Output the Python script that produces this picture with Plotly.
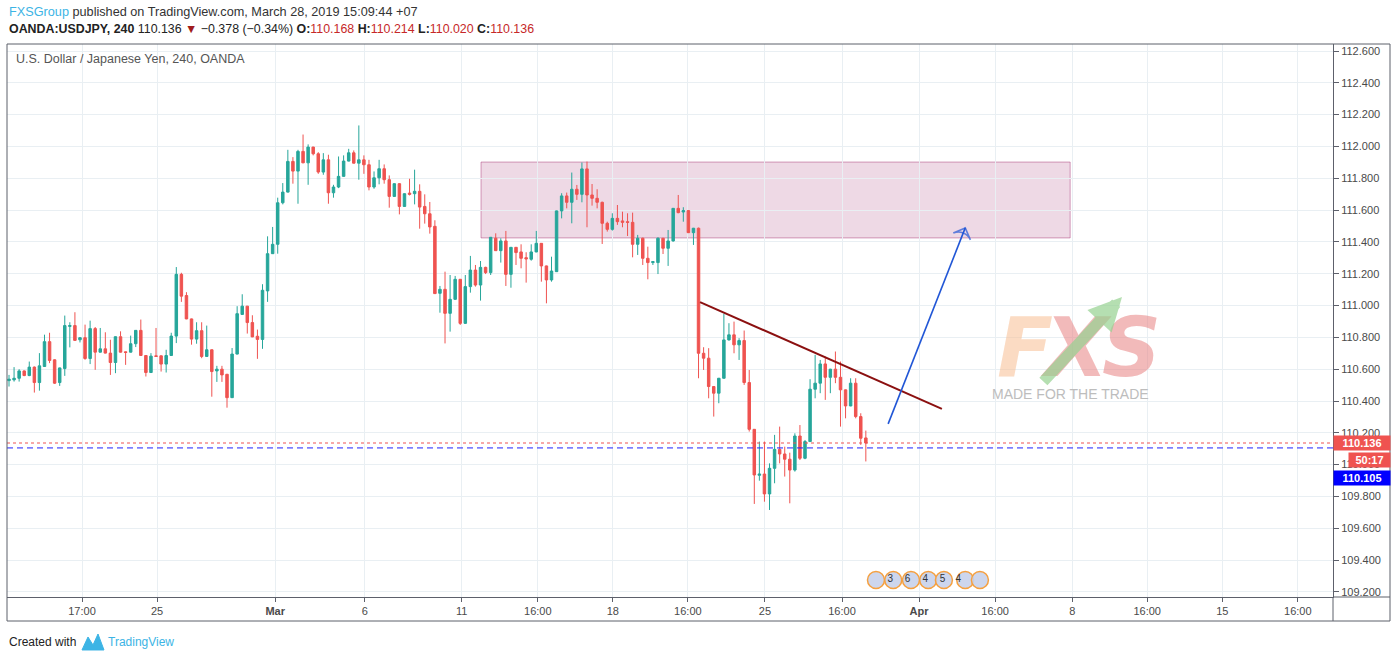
import plotly.graph_objects as go

# ---------------- data ----------------
opens = [110.528,110.533,110.543,110.589,110.560,110.613,110.516,110.617,110.773,110.659,
         110.516,110.604,110.869,110.874,110.785,110.798,110.667,110.855,110.707,110.728,
         110.701,110.642,110.804,110.709,110.707,110.760,110.844,110.686,110.579,110.684,
         110.684,110.632,110.686,110.808,111.196,111.063,110.916,110.789,110.842,110.680,
         110.722,110.589,110.600,110.568,110.421,110.695,110.944,110.996,110.893,110.807,
         110.787,111.092,111.326,111.385,111.646,111.713,111.906,111.845,111.969,111.897,
         111.996,111.954,111.839,111.916,111.709,111.745,111.812,111.908,111.960,111.895,
         111.916,111.885,111.745,111.803,111.860,111.791,111.686,111.766,111.623,111.707,
         111.703,111.718,111.623,111.577,111.498,111.077,111.102,110.951,111.039,111.165,
         110.888,111.119,111.223,111.129,111.240,111.207,111.423,111.345,111.406,111.196,
         111.366,111.337,111.301,111.291,111.337,111.391,111.249,111.161,111.213,111.595,
         111.689,111.649,111.731,111.699,111.859,111.695,111.674,111.649,111.517,111.479,
         111.548,111.532,111.527,111.523,111.385,111.423,111.297,111.270,111.270,111.423,
         111.360,111.406,111.611,111.588,111.597,111.458,111.486,110.700,110.669,110.491,
         110.449,110.543,110.784,110.816,110.753,110.780,110.516,110.222,109.933,109.941,
         109.816,109.977,110.096,110.067,110.034,109.966,110.180,110.040,110.145,110.474,
         110.512,110.633,110.549,110.600,110.549,110.470,110.369,110.512,110.302,110.168]
highs = [110.564,110.613,110.600,110.592,110.648,110.617,110.701,110.817,110.829,110.662,
         110.610,110.937,110.895,110.958,110.800,110.880,110.905,110.865,110.859,110.832,
         110.785,110.806,110.838,110.711,110.811,110.846,110.912,110.688,110.701,110.859,
         110.686,110.722,110.829,111.242,111.206,111.084,110.918,110.895,110.895,110.874,
         110.724,110.621,110.621,110.570,110.733,110.996,111.071,110.998,110.939,110.849,
         111.134,111.435,111.494,111.678,111.770,111.979,111.933,111.979,112.075,112.013,
         111.998,111.964,111.958,111.948,111.759,111.937,111.944,111.985,111.975,112.132,
         111.944,111.916,111.843,111.916,111.887,111.818,111.768,111.770,111.705,111.797,
         111.854,111.762,111.699,111.651,111.536,111.123,111.213,111.192,111.186,111.167,
         111.192,111.312,111.255,111.280,111.244,111.431,111.454,111.423,111.469,111.368,
         111.368,111.385,111.335,111.385,111.469,111.393,111.251,111.307,111.597,111.706,
         111.710,111.836,111.758,111.899,111.905,111.764,111.731,111.653,111.527,111.580,
         111.632,111.590,111.580,111.584,111.444,111.427,111.370,111.278,111.429,111.425,
         111.475,111.613,111.695,111.618,111.599,111.488,111.490,110.738,110.732,110.493,
         110.545,110.948,110.889,110.899,110.795,110.843,110.595,110.224,110.145,110.145,
         110.008,110.187,110.239,110.113,110.075,110.197,110.249,110.155,110.537,110.690,
         110.658,110.679,110.602,110.711,110.648,110.472,110.543,110.543,110.323,110.214]
lows = [110.491,110.522,110.522,110.556,110.556,110.453,110.465,110.615,110.638,110.507,
        110.495,110.558,110.737,110.779,110.768,110.659,110.632,110.596,110.705,110.699,
        110.564,110.575,110.705,110.627,110.705,110.739,110.684,110.554,110.577,110.678,
        110.585,110.579,110.684,110.764,111.023,110.914,110.754,110.760,110.669,110.678,
        110.427,110.520,110.520,110.358,110.419,110.693,110.942,110.824,110.801,110.665,
        110.728,111.023,111.324,111.326,111.636,111.711,111.766,111.640,111.895,111.759,
        111.944,111.828,111.822,111.640,111.678,111.738,111.810,111.906,111.893,111.791,
        111.828,111.724,111.734,111.762,111.766,111.615,111.684,111.573,111.621,111.692,
        111.636,111.483,111.515,111.452,111.073,110.955,110.762,110.836,111.035,110.878,
        110.884,111.081,111.119,111.031,111.198,111.192,111.343,111.270,111.123,111.112,
        111.255,111.234,111.144,111.282,111.335,111.150,111.014,111.150,111.211,111.548,
        111.611,111.517,111.664,111.649,111.492,111.628,111.611,111.387,111.465,111.471,
        111.507,111.492,111.437,111.303,111.318,111.255,111.165,111.255,111.198,111.324,
        111.249,111.402,111.580,111.527,111.456,111.381,110.543,110.595,110.417,110.302,
        110.386,110.541,110.780,110.700,110.658,110.501,110.208,109.753,109.899,109.767,
        109.715,109.883,110.008,109.925,109.757,109.956,110.029,110.034,110.143,110.417,
        110.449,110.407,110.449,110.512,110.239,110.291,110.367,110.291,110.124,110.020]
closes = [110.537,110.543,110.589,110.560,110.613,110.516,110.621,110.773,110.655,110.512,
          110.608,110.874,110.874,110.781,110.798,110.667,110.855,110.707,110.728,110.701,
          110.642,110.804,110.707,110.705,110.760,110.844,110.686,110.579,110.682,110.680,
          110.632,110.686,110.808,111.196,111.059,110.916,110.789,110.842,110.680,110.722,
          110.585,110.600,110.564,110.421,110.695,110.949,110.996,110.893,110.803,110.787,
          111.096,111.326,111.385,111.646,111.713,111.906,111.845,111.969,111.897,111.996,
          111.954,111.839,111.916,111.709,111.745,111.812,111.908,111.960,111.895,111.916,
          111.885,111.745,111.803,111.860,111.791,111.686,111.766,111.623,111.703,111.699,
          111.718,111.619,111.577,111.494,111.075,111.102,110.951,111.039,111.165,110.888,
          111.119,111.223,111.129,111.240,111.207,111.429,111.345,111.406,111.196,111.366,
          111.333,111.297,111.293,111.337,111.391,111.249,111.161,111.217,111.595,111.689,
          111.649,111.731,111.699,111.859,111.695,111.674,111.649,111.517,111.479,111.548,
          111.527,111.523,111.523,111.385,111.423,111.297,111.270,111.276,111.423,111.360,
          111.406,111.611,111.584,111.597,111.458,111.486,110.700,110.669,110.491,110.449,
          110.543,110.784,110.816,110.753,110.780,110.516,110.222,109.935,109.941,109.816,
          109.977,110.096,110.067,110.034,109.966,110.180,110.040,110.145,110.474,110.512,
          110.633,110.549,110.600,110.549,110.470,110.369,110.512,110.302,110.166,110.136]
bar_index = list(range(len(opens)))

time_tick_pos = [14.4, 29.2, 52.5, 70.2, 89.3, 104.3, 119.1, 133.9, 149.1, 164.3,
                 179.5, 194.5, 209.7, 224.5, 239.3, 254.2]
time_tick_text = ["17:00", "25", "<b>Mar</b>", "6", "11", "16:00", "18", "16:00", "25", "16:00",
                  "<b>Apr</b>", "16:00", "8", "16:00", "15", "16:00"]
price_ticks = [109.2, 109.4, 109.6, 109.8, 110.0, 110.2, 110.4, 110.6, 110.8, 111.0,
               111.2, 111.4, 111.6, 111.8, 112.0, 112.2, 112.4, 112.6]

# drawings on the chart
zone_x = [93.1, 209.3]
zone_y = [111.425, 111.902]
trend_x = [136.3, 184.0]
trend_y = [111.022, 110.350]
arrow_x = [173.4, 188.6]
arrow_y = [110.256, 111.488]
last_price = 110.136
bid_price = 110.105
event_x = [171.0, 174.4, 177.9, 181.3, 184.4, 188.6, 191.5]
event_y = [109.275] * len(event_x)
event_text = ["3", "6", "4", "5", "4", "", ""]

x_range = [-0.394, 261.14]
y_range = [109.168, 112.644]

FONT = "Liberation Sans, Arial, sans-serif"
UP = "#26a69a"
DOWN = "#ef5350"
GRID = "#e9eff3"
AXIS = "#5d606b"

fig = go.Figure()

# zone rectangle (below candles)
fig.add_shape(type="rect", x0=zone_x[0], x1=zone_x[1], y0=zone_y[0], y1=zone_y[1],
              xref="x", yref="y", layer="below",
              fillcolor="rgba(163,44,110,0.18)", line=dict(color="rgba(163,44,110,0.45)", width=1))

# watermark
wm_font = dict(family="DejaVu Sans, Liberation Sans", size=82)
for letter, px, col in [("F", 1025, "rgba(248,190,145,0.55)"),
                        ("X", 1076, "rgba(232,130,130,0.55)"),
                        ("S", 1131, "rgba(232,130,130,0.55)")]:
    fig.add_annotation(xref="paper", yref="paper", x=(px - 7) / 1326, y=0.452,
                       xanchor="center", yanchor="middle", text="<b><i>%s</i></b>" % letter,
                       showarrow=False, font=dict(wm_font, color=col))
fig.add_annotation(xref="paper", yref="paper", x=(1122 - 7) / 1326, y=(597 - 297) / 553,
                   ax=-80, ay=86, text="", showarrow=True, arrowhead=2, arrowsize=0.6,
                   arrowwidth=11, arrowcolor="rgba(150,210,145,0.7)")
fig.add_annotation(xref="paper", yref="paper", x=(1070 - 7) / 1326, y=(597 - 394) / 553,
                   xanchor="center", yanchor="middle", text="MADE FOR THE TRADE",
                   showarrow=False, font=dict(family=FONT, size=14, color="#bdbdbd"))

# horizontal price lines
fig.add_hline(y=last_price, line=dict(color=DOWN, width=1, dash="dot"))
fig.add_hline(y=bid_price, line=dict(color="#2020ff", width=1, dash="6px,4px"))

# candles
fig.add_trace(go.Candlestick(
    x=bar_index, open=opens, high=highs, low=lows, close=closes,
    increasing=dict(line=dict(color=UP, width=1), fillcolor=UP),
    decreasing=dict(line=dict(color=DOWN, width=1), fillcolor=DOWN),
    whiskerwidth=0, showlegend=False, hoverinfo="skip"))

# trend line
fig.add_trace(go.Scatter(x=trend_x, y=trend_y, mode="lines",
                         line=dict(color="#8b1010", width=2), showlegend=False, hoverinfo="skip"))
# blue arrow
fig.add_trace(go.Scatter(x=arrow_x, y=arrow_y, mode="lines+markers",
                         line=dict(color="#2156d6", width=1.6),
                         marker=dict(symbol="arrow-wide-open", size=[0, 13], angleref="previous",
                                     color="#2156d6", line=dict(color="#2156d6", width=1.6)),
                         showlegend=False, hoverinfo="skip"))

# event markers
fig.add_trace(go.Scatter(x=event_x, y=event_y, mode="markers+text", text=event_text,
                         textposition="middle right",
                         textfont=dict(family=FONT, size=10, color="#333"),
                         marker=dict(symbol="circle", size=17, color="rgba(200,210,235,0.9)",
                                     line=dict(color="#f5a040", width=1.5)),
                         showlegend=False, hoverinfo="skip", cliponaxis=False))

fig.update_layout(
    width=1396, height=660,
    margin=dict(l=7, r=63, t=44, b=63),
    paper_bgcolor="white", plot_bgcolor="white",
    font=dict(family=FONT, size=11, color="#4a4a4a"),
    showlegend=False,
    xaxis=dict(range=x_range, tickmode="array", tickvals=time_tick_pos, ticktext=time_tick_text,
               showgrid=True, gridcolor=GRID, gridwidth=1, zeroline=False,
               showline=True, linecolor=AXIS, linewidth=1,
               ticks="outside", ticklen=4, tickcolor=AXIS,
               tickfont=dict(family=FONT, size=11, color="#4a4a4a"),
               rangeslider=dict(visible=False), fixedrange=True),
    yaxis=dict(range=y_range, side="right", tickmode="array", tickvals=price_ticks,
               tickformat=".3f", showgrid=True, gridcolor=GRID, gridwidth=1, zeroline=False,
               showline=True, linecolor=AXIS, linewidth=1,
               ticks="outside", ticklen=5, tickcolor=AXIS,
               tickfont=dict(family=FONT, size=11, color="#4a4a4a"), fixedrange=True),
)

# outer frame and axis extensions
fig.add_shape(type="rect", xref="paper", yref="paper", x0=0, x1=1.04299, y0=-0.0434, y1=1.0,
              line=dict(color=AXIS, width=1), fillcolor="rgba(0,0,0,0)", layer="above")
fig.add_shape(type="line", xref="paper", yref="paper", x0=1.0, x1=1.0, y0=-0.0434, y1=0,
              line=dict(color=AXIS, width=1))
fig.add_shape(type="line", xref="paper", yref="paper", x0=1.0, x1=1.04299, y0=0, y1=0,
              line=dict(color=AXIS, width=1))

# price labels on axis
fig.add_annotation(xref="paper", yref="y", x=1.0, y=last_price, xanchor="left", yanchor="middle",
                   text="<b>110.136</b>", showarrow=False, bgcolor=DOWN, width=56, height=14,
                   borderpad=0, font=dict(family=FONT, size=11, color="white"))
fig.add_annotation(xref="paper", yref="y", x=1.0113, y=110.029, xanchor="left", yanchor="middle",
                   text="<b>50:17</b>", showarrow=False, bgcolor=DOWN, width=41, height=14,
                   borderpad=0, font=dict(family=FONT, size=11, color="white"))
fig.add_annotation(xref="paper", yref="y", x=1.0, y=109.916, xanchor="left", yanchor="middle",
                   text="<b>110.105</b>", showarrow=False, bgcolor="#0000ff", width=56, height=14,
                   borderpad=0, font=dict(family=FONT, size=11, color="white"))

# header texts
fig.add_annotation(xref="paper", yref="paper", x=0, y=1.0579, xanchor="left", yanchor="middle",
                   showarrow=False, font=dict(family=FONT, size=12.7, color="#333333"),
                   text="<span style='color:#3cb4e5'>FXSGroup</span> published on TradingView.com, March 28, 2019 15:09:44 +07")
red = "#c62828"
header2 = ("<b>OANDA:USDJPY, 240</b> 110.136 <span style='color:#a01c1c'>▼</span> "
           "−0.378 (−0.34%) <b>O:</b><span style='color:{r}'>110.168</span> "
           "<b>H:</b><span style='color:{r}'>110.214</span> "
           "<b>L:</b><span style='color:{r}'>110.020</span> "
           "<b>C:</b><span style='color:{r}'>110.136</span>").format(r=red)
fig.add_annotation(xref="paper", yref="paper", x=0, y=1.0271, xanchor="left", yanchor="middle",
                   showarrow=False, font=dict(family=FONT, size=12.4, color="#222222"),
                   text=header2)
fig.add_annotation(xref="paper", yref="paper", x=0.0053, y=0.9729, xanchor="left", yanchor="middle",
                   showarrow=False, font=dict(family=FONT, size=12.5, color="#555555"),
                   text="U.S. Dollar / Japanese Yen, 240, OANDA")

# footer
fig.add_annotation(xref="paper", yref="paper", x=0, y=-0.0814, xanchor="left", yanchor="middle",
                   showarrow=False, font=dict(family=FONT, size=12, color="#222222"),
                   text="Created with")
fig.add_shape(type="path", xref="paper", yref="paper",
              path="M 0.05656,-0.09584 L 0.06109,-0.07233 L 0.06486,-0.0868 L 0.06863,-0.06691 L 0.07315,-0.09584 Z",
              fillcolor="#3cb4e5", line=dict(color="#3cb4e5", width=1))
fig.add_annotation(xref="paper", yref="paper", x=0.0747, y=-0.0814, xanchor="left", yanchor="middle",
                   showarrow=False, font=dict(family=FONT, size=12, color="#3cb4e5"),
                   text="TradingView")

fig.write_html("out.html", config={"displayModeBar": False},
               post_script="document.body.style.margin='0';")
